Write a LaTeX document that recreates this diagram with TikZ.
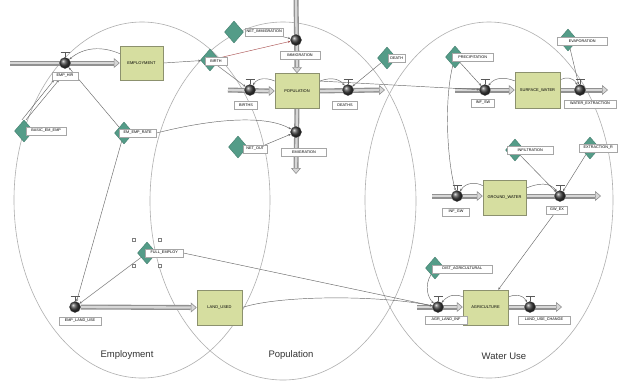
\documentclass[tikz,border=0pt]{standalone}
\usepackage{fontspec}
\setmainfont{Liberation Sans}
\usetikzlibrary{shapes.geometric,arrows.meta,calc}
\pgfdeclarelayer{background}
\pgfsetlayers{background,main}
\definecolor{stockfill}{RGB}{214,222,160}
\definecolor{stockdraw}{RGB}{140,145,110}
\definecolor{auxfill}{RGB}{84,156,136}
\definecolor{ellcol}{RGB}{175,175,175}
\definecolor{linkcol}{RGB}{105,105,105}
\definecolor{pipedark}{RGB}{145,145,145}
\definecolor{pipelight}{RGB}{215,215,215}
\begin{document}
\begin{tikzpicture}[x=1pt,y=-1pt,
 stock/.style={draw=stockdraw, fill=stockfill, line width=0.5pt, inner sep=0, font=\fontsize{4}{4.5}\selectfont},
 aux/.style={diamond, draw=auxfill!80!black, line width=0.4pt, fill=auxfill, minimum width=19pt, minimum height=22pt, inner sep=0},
 tag/.style={draw=gray!70, fill=white, line width=0.4pt, inner sep=0.8pt, font=\fontsize{3.8}{4.2}\selectfont, minimum height=7.5pt},
 valve/.style={circle, shading=ball, ball color=black!75, draw=black!75, line width=0.3pt, minimum size=11pt, inner sep=0},
 vhandle/.style={draw=black!65, line width=0.9pt},
 pipe/.style={draw=pipelight, line width=2.3pt, preaction={draw=pipedark, line width=5pt}},
 pipetip/.style={draw=pipedark, line width=0.6pt, -{Triangle[length=6pt 0,width=10pt 0,fill=pipelight]}},
 link/.style={draw=linkcol, line width=0.45pt, -{Stealth[length=2.6pt 0,width=2.2pt 0]}},
 ell/.style={draw=ellcol, line width=0.6pt},
 grouptitle/.style={font=\fontsize{9.5}{11}\selectfont, text=black!80},
 selhandle/.style={draw=gray, fill=white, minimum size=3.2pt, inner sep=0, line width=0.3pt}
]
\useasboundingbox (0,0) rectangle (619,384);

% ---------- Employment ----------
\node[stock, minimum width=43pt, minimum height=34pt] (emp) at (141.5,63) {EMPLOYMENT};
\coordinate (empsrc) at (10,63);
\node[valve] (vhire) at (65,63) {};
\node[tag, minimum width=26pt] (thire) at (65,76) {EMP\_HIR};
\node[aux] (dbase) at (24,131) {};
\node[tag, anchor=west, minimum width=40pt] (tbase) at (26,131) {BASIC\_EM\_EMP};
\node[aux] (drate) at (124,133) {};
\node[tag, anchor=west, minimum width=37pt] (trate) at (119,133) {EM\_EMP\_RATE};
\node[aux] (dfull) at (147,253) {};
\node[tag, anchor=west, minimum width=38pt] (tfull) at (145,253) {FULL\_EMPLOY};
\node[selhandle] (h1) at (134,240) {};
\node[selhandle] (h2) at (160,240) {};
\node[selhandle] (h3) at (134,266) {};
\node[selhandle] (h4) at (160,266) {};
\node[valve] (vland) at (75,307) {};
\node[tag, minimum width=42pt] (tland) at (80,321) {EMP\_LAND\_USE};
\node[stock, minimum width=45pt, minimum height=35pt] (land) at (219.5,307.5) {LAND\_USED};

% ---------- Population ----------
\node[stock, minimum width=44pt, minimum height=35pt] (pop) at (297,91) {POPULATION};
\coordinate (immsrc) at (296,0);
\node[valve] (vimm) at (296,40) {};
\node[tag, minimum width=40pt] (timm) at (300,55) {IMMIGRATION};
\node[aux] (dnetimm) at (234,32) {};
\node[tag, anchor=west, minimum width=38pt] (tnetimm) at (245,32) {NET\_IMMIGRATION};
\node[aux] (dbirth) at (210,60) {};
\node[tag, minimum width=22pt] (tbirth) at (216,61) {BIRTH};
\coordinate (birthsrc) at (228,90);
\node[valve] (vbirth) at (250,90) {};
\node[tag, minimum width=23pt] (tbirths) at (246,105) {BIRTHS};
\node[valve] (vdeath) at (348,90) {};
\node[tag, minimum width=25pt] (tdeaths) at (345,105) {DEATHS};
\coordinate (deathend) at (385,90);
\node[aux] (ddeath) at (387,58) {};
\node[tag, anchor=west, minimum width=17pt] (tdeath) at (388,58) {DEATH};
\node[valve] (vemi) at (296,132) {};
\node[tag, minimum width=45pt] (temi) at (304,152) {EMIGRATION};
\coordinate (emiend) at (296,174);
\node[aux] (dnetout) at (238,147) {};
\node[tag, anchor=west, minimum width=24pt] (tnetout) at (243,149) {NET\_OUT};

% ---------- Water use ----------
\node[stock, minimum width=45pt, minimum height=36pt] (sw) at (537.5,90) {SURFACE\_WATER};
\coordinate (swsrc) at (455,90);
\node[valve] (vswin) at (485,90) {};
\node[tag, minimum width=23pt] (tswin) at (483,103) {INF\_SW};
\node[valve] (vswout) at (580,90) {};
\node[tag, minimum width=52pt] (tswout) at (590,104) {WATER\_EXTRACTION};
\coordinate (swend) at (608,90);
\node[aux] (dprec) at (455,57) {};
\node[tag, anchor=west, minimum width=41pt] (tprec) at (452,57) {PRECIPITATION};
\node[aux] (devap) at (568,40) {};
\node[tag, anchor=west, minimum width=50pt] (tevap) at (557,41) {EVAPORATION};

\node[stock, minimum width=43pt, minimum height=35pt] (gw) at (504.5,197.5) {GROUND\_WATER};
\coordinate (gwsrc) at (432,196);
\node[valve] (vgwin) at (457,196) {};
\node[tag, minimum width=27pt] (tgwin) at (456,212) {INF\_GW};
\node[valve] (vgwout) at (560,196) {};
\node[tag, minimum width=21pt] (tgwout) at (557,210) {GW\_EX};
\coordinate (gwend) at (601,196);
\node[aux] (dinf) at (515,150) {};
\node[tag, anchor=west, minimum width=46pt] (tinf) at (507,150) {INFILTRATION};
\node[aux] (dext) at (590,148) {};
\node[tag, anchor=west, minimum width=38pt] (textr) at (579,148) {EXTRACTION\_R};

\node[stock, minimum width=45pt, minimum height=35pt] (ag) at (485.5,307.5) {AGRICULTURE};
\coordinate (agsrc) at (417,307);
\node[valve] (vagin) at (438,307) {};
\node[tag, minimum width=42pt] (tagin) at (446,320) {AGR\_LAND\_INF};
\node[valve] (vagout) at (530,307) {};
\node[tag, minimum width=52pt] (tagout) at (544,320) {LAND\_USE\_CHANGE};
\coordinate (agend) at (562,307);
\node[aux] (ddist) at (435,268) {};
\node[tag, anchor=west, minimum width=60pt] (tdist) at (432,269) {DIST\_AGRICULTURAL};

% titles
\node[grouptitle] (tEmp) at (127,355) {Employment};
\node[grouptitle] (tPop) at (291,355) {Population};
\node[grouptitle] (tWat) at (504,356) {Water Use};

% valve handles
\foreach \v in {vhire,vland,vbirth,vdeath,vswin,vswout,vgwin,vgwout,vagin,vagout}{
  \draw[vhandle] (\v.north) -- ++(0,-4.5) ++(-4.5,0) -- ++(9,0);
}

\begin{pgfonlayer}{background}
\fill[white] (0,0) rectangle (619,384);
% group ellipses
\draw[ell] (142,200) ellipse [x radius=128pt, y radius=178pt];
\draw[ell] (283,201) ellipse [x radius=133pt, y radius=179pt];
\draw[ell] (489,200) ellipse [x radius=124pt, y radius=178pt];

% pipes
\draw[pipe] (empsrc) -- ([xshift=-6pt]emp.west);
\draw[pipetip] ([xshift=-6pt]emp.west) -- (emp.west);
\draw[pipe] (vland) -- ([xshift=-6pt]land.west);
\draw[pipetip] ([xshift=-6pt]land.west) -- (land.west);
\draw[pipe] (immsrc) -- ([yshift=6pt]pop.north);
\draw[pipetip] ([yshift=6pt]pop.north) -- (pop.north);
\draw[pipe] (birthsrc) -- ([xshift=-6pt]pop.west);
\draw[pipetip] ([xshift=-6pt]pop.west) -- (pop.west);
\draw[pipe] (pop.east) -- ([xshift=-6pt]deathend);
\draw[pipetip] ([xshift=-6pt]deathend) -- (deathend);
\draw[pipe] (pop.south) -- ([yshift=6pt]emiend);
\draw[pipetip] ([yshift=6pt]emiend) -- (emiend);
\draw[pipe] (swsrc) -- ([xshift=-6pt]sw.west);
\draw[pipetip] ([xshift=-6pt]sw.west) -- (sw.west);
\draw[pipe] (sw.east) -- ([xshift=-6pt]swend);
\draw[pipetip] ([xshift=-6pt]swend) -- (swend);
\draw[pipe] (gwsrc) -- ([xshift=-6pt]gw.west|-gwsrc);
\draw[pipetip] ([xshift=-6pt]gw.west|-gwsrc) -- (gw.west|-gwsrc);
\draw[pipe] (gw.east|-gwend) -- ([xshift=-6pt]gwend);
\draw[pipetip] ([xshift=-6pt]gwend) -- (gwend);
\draw[pipe] (agsrc) -- ([xshift=-6pt]ag.west|-agsrc);
\draw[pipetip] ([xshift=-6pt]ag.west|-agsrc) -- (ag.west|-agsrc);
\draw[pipe] (ag.east|-agend) -- ([xshift=-6pt]agend);
\draw[pipetip] ([xshift=-6pt]agend) -- (agend);

% links - employment
\draw[link] (emp) .. controls (102,46) and (84,47) .. (vhire);
\draw[link] ([xshift=-2pt]dbase.north) -- ([xshift=-11pt]thire.south);
\draw[link] ([xshift=2pt]dbase.north) -- ([xshift=-6pt]thire.south);
\draw[link] (drate) -- (vhire);
\draw[link] (emp.east) -- (dbirth);
\draw[link] (drate) -- (vland);
\draw[link] (dfull) -- (vland);
\draw[link] (tfull.east) -- (vagin);
\draw[link] (land.east) .. controls (280,295) and (380,295) .. (vagin);
% links - population
\draw[link, draw=red!35!gray] (dbirth) -- (vimm);
\draw[link] (dbirth) -- (vbirth);
\draw[link] (tnetimm) -- (vimm);
\draw[link] (trate.east) .. controls (220,117) and (268,116) .. (vemi);
\draw[link] (pop) .. controls (268,78) and (258,77) .. (vbirth);
\draw[link] (pop) .. controls (327,78) and (338,77) .. (vdeath);
\draw[link] (ddeath) -- (vdeath);
\draw[link] (tnetout) -- (vemi);
\draw[link] ([yshift=10pt]pop.east) -- (vswin);
% links - water
\draw[link] (dprec) -- (vswin);
\draw[link] (dprec) .. controls (444,100) and (447,160) .. (vgwin);
\draw[link] (sw) .. controls (505,77) and (495,77) .. (vswin);
\draw[link] (sw) .. controls (566,77) and (573,77) .. (vswout);
\draw[link] (devap) -- (vswout);
\draw[link] (dinf) -- (vgwout);
\draw[link] (dext) -- (vgwout);
\draw[link] (gw) .. controls (476,182) and (466,182) .. (vgwin);
\draw[link] (gw) .. controls (538,183) and (550,182) .. (vgwout);
\draw[link] (tgwout) -- ([xshift=-10pt]ag.north east);
\draw[link] (ddist) .. controls (424,286) and (428,298) .. (vagin);
\draw[link] (ag) .. controls (457,294) and (449,294) .. (vagin);
\draw[link] (ag) .. controls (515,294) and (522,294) .. (vagout);
\end{pgfonlayer}
\end{tikzpicture}
\end{document}
